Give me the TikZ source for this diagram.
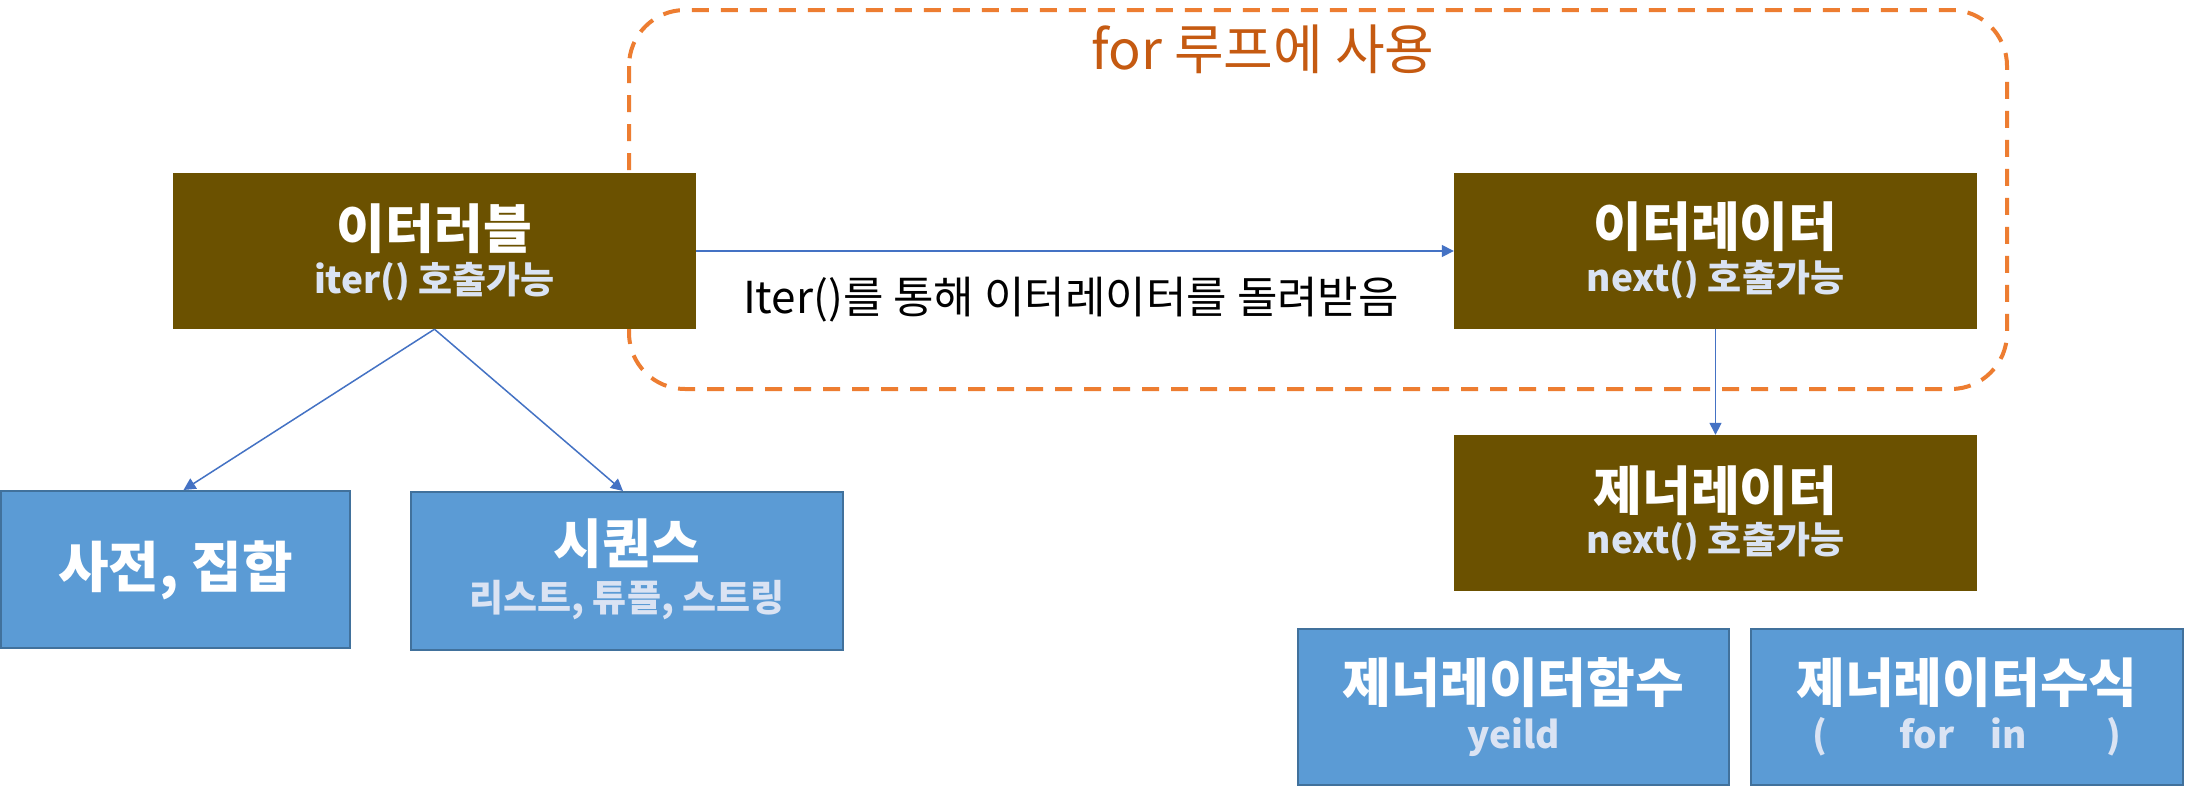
\documentclass[tikz,border=0pt]{standalone}
\usepackage{fontspec}
\setmainfont{Noto Sans CJK KR}
\usetikzlibrary{arrows.meta}
\definecolor{brownc}{HTML}{6B5100}
\definecolor{bluec}{HTML}{5B9BD5}
\definecolor{blueb}{HTML}{41719C}
\definecolor{subc}{HTML}{DAE3F3}
\definecolor{arrc}{HTML}{4472C4}
\definecolor{dashc}{HTML}{ED7D31}
\definecolor{forc}{HTML}{C55A11}
\tikzset{
  brownbox/.style={fill=brownc, draw=none, inner sep=0pt, minimum width=523pt, minimum height=156pt},
  bluebox/.style={fill=bluec, draw=blueb, line width=2pt, inner sep=0pt},
  ttl/.style={text=white, font=\fontsize{53}{60}\selectfont\bfseries, inner sep=0pt},
  sub/.style={text=subc, font=\fontsize{37}{44}\selectfont\bfseries, inner sep=0pt},
  arr/.style={draw=arrc, line width=1.5pt, -{Triangle[length=12pt,width=12pt]}},
  loopbox/.style={draw=dashc, line width=4pt, dash pattern=on 17pt off 12pt, rounded corners=56pt},
}
\begin{document}
\begin{tikzpicture}[x=1pt,y=-1pt]
\useasboundingbox (0,0) rectangle (2186,788);
\fill[white] (0,0) rectangle (2186,788);
% loop region
\draw[loopbox] (629,10) rectangle (2007,389);
\node[text=forc, font=\fontsize{54}{60}\selectfont, inner sep=0pt] (forlbl) at (1263,49) {for 루프에 사용};
% brown boxes
\node[brownbox] (iterable) at (434.5,251) {};
\node[ttl] (iterableT) at (434.5,229) {이터러블};
\node[sub] (iterableS) at (434.5,282) {iter() 호출가능};
\node[brownbox] (iterator) at (1715.5,251) {};
\node[ttl] (iteratorT) at (1715.5,227) {이터레이터};
\node[sub] (iteratorS) at (1715.5,280) {next() 호출가능};
\node[brownbox] (generator) at (1715.5,513) {};
\node[ttl] (generatorT) at (1715.5,491) {제너레이터};
\node[sub] (generatorS) at (1715.5,542) {next() 호출가능};
% blue boxes
\node[bluebox, minimum width=349pt, minimum height=157pt] (dict) at (175.5,569.5) {};
\node[ttl, font=\fontsize{55}{60}\selectfont\bfseries] (dictT) at (175.5,570) {사전, 집합};
\node[bluebox, minimum width=432pt, minimum height=158pt] (seq) at (627,571) {};
\node[ttl] (seqT) at (627,544) {시퀀스};
\node[sub] (seqS) at (627,600) {리스트, 튜플, 스트링};
\node[bluebox, minimum width=431pt, minimum height=156pt] (genfunc) at (1513.5,707) {};
\node[ttl] (genfuncT) at (1513.5,683) {제너레이터함수};
\node[sub] (genfuncS) at (1513.5,737) {yeild};
\node[bluebox, minimum width=432pt, minimum height=156pt] (genexpr) at (1967,707) {};
\node[ttl] (genexprT) at (1967,683) {제너레이터수식};
\node[sub] (genexprS) at (1967,737) {(\hspace{72pt}for\hspace{36pt}in\hspace{80pt})};
% connectors
\draw[arr] (iterable.east) -- (iterator.west);
\node[font=\fontsize{44}{50}\selectfont, inner sep=0pt] (getlbl) at (1071,300) {Iter()를 통해 이터레이터를 돌려받음};
\draw[arr] (iterable.south) -- ([xshift=8pt]dict.north);
\draw[arr] (iterable.south) -- ([xshift=-4pt]seq.north);
\draw[arr] (iterator.south) -- (generator.north);
\end{tikzpicture}
\end{document}
